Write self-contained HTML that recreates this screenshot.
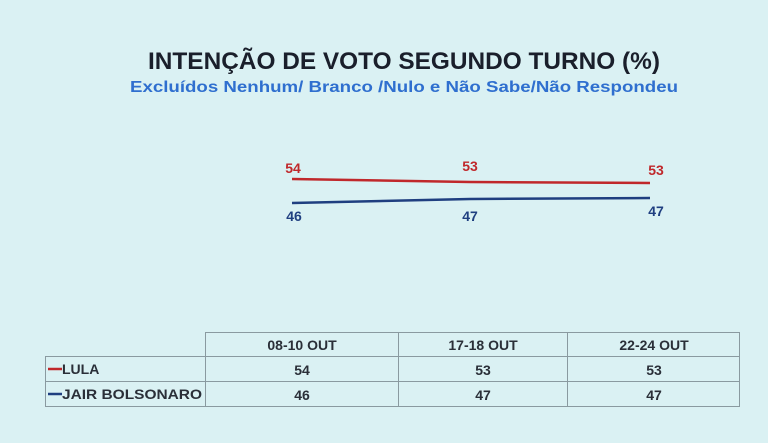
<!DOCTYPE html><html><head><meta charset="utf-8"><style>body{margin:0;background:#daf1f3;}svg{display:block}</style></head><body>
<svg width="768" height="443" xmlns="http://www.w3.org/2000/svg" font-family="Liberation Sans, sans-serif">
<rect width="768" height="443" fill="#daf1f3"/>
<text x="404" y="69" text-anchor="middle" font-size="24" font-weight="bold" fill="#1a1f2b" textLength="512" lengthAdjust="spacingAndGlyphs">INTENÇÃO DE VOTO SEGUNDO TURNO (%)</text>
<text x="404" y="92" text-anchor="middle" font-size="16" font-weight="bold" fill="#2f6fcf" textLength="548" lengthAdjust="spacingAndGlyphs">Excluídos Nenhum/ Branco /Nulo  e Não Sabe/Não Respondeu</text>
<polyline points="292,179 470,182 650,183" fill="none" stroke="#c0282b" stroke-width="2.5"/>
<polyline points="292,203 470,199 650,198" fill="none" stroke="#1f3f80" stroke-width="2.5"/>
<g font-size="14" font-weight="bold" fill="#c0282b" text-anchor="middle">
<text x="293" y="173">54</text><text x="470" y="171">53</text><text x="656" y="175">53</text></g>
<g font-size="14" font-weight="bold" fill="#1f3f80" text-anchor="middle">
<text x="294" y="221">46</text><text x="470" y="221">47</text><text x="656" y="216">47</text></g>
<g stroke="#8a9aa0" stroke-width="1" fill="none">
<rect x="205.5" y="332.5" width="534" height="74"/>
<rect x="45.5" y="356.5" width="160" height="50"/>
<line x1="45" y1="381.5" x2="740" y2="381.5"/>
<line x1="205" y1="356.5" x2="740" y2="356.5"/>
<line x1="398.5" y1="332" x2="398.5" y2="407"/>
<line x1="567.5" y1="332" x2="567.5" y2="407"/>
</g>
<g font-size="14" font-weight="bold" fill="#2a2f38" text-anchor="middle">
<text x="302" y="350">08-10 OUT</text><text x="483" y="350">17-18 OUT</text><text x="654" y="350">22-24 OUT</text>
<text x="302" y="375">54</text><text x="483" y="375">53</text><text x="654" y="375">53</text>
<text x="302" y="400">46</text><text x="483" y="400">47</text><text x="654" y="400">47</text>
</g>
<line x1="48" y1="369" x2="62" y2="369" stroke="#c0282b" stroke-width="2.5"/>
<line x1="48" y1="394" x2="62" y2="394" stroke="#1f3f80" stroke-width="2.5"/>
<text x="62" y="374" font-size="14" font-weight="bold" fill="#2a2f38">LULA</text>
<text x="62" y="399" font-size="14" font-weight="bold" fill="#2a2f38" textLength="140" lengthAdjust="spacingAndGlyphs">JAIR BOLSONARO</text>
</svg></body></html>
